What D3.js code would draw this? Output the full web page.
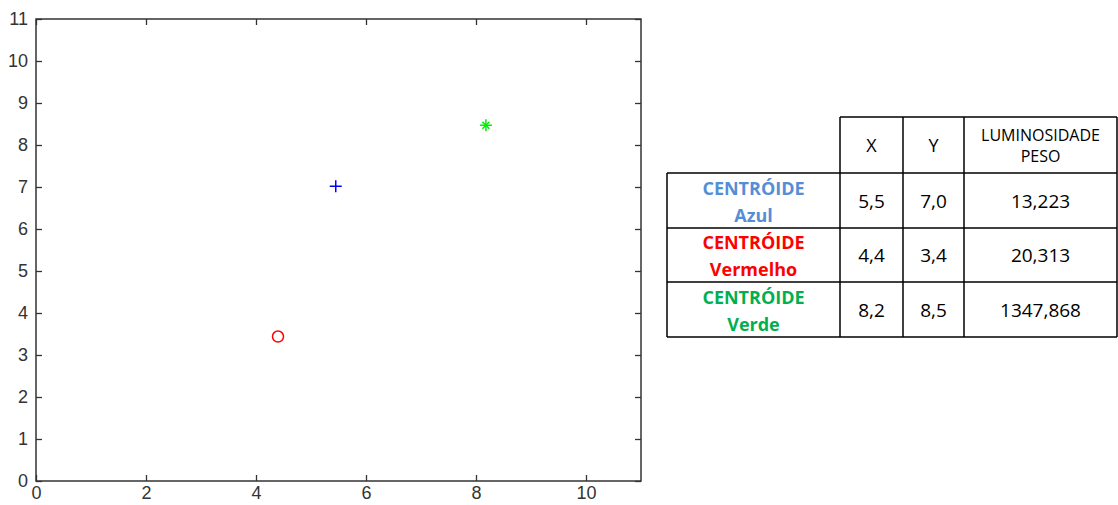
<!DOCTYPE html>
<meta charset="utf-8">
<title>Centroides</title>
<style>
  body { margin: 0; background: #fff; }
  .cell-text { font-family: 'Open Sans', 'Liberation Sans', sans-serif; }
</style>
<svg width="1118" height="505"></svg>
<script src="https://cdn.jsdelivr.net/npm/d3@7"></script>
<script>
// centroides
var nomes = ["Azul", "Vermelho", "Verde"];
var xs = [5.45, 4.4, 8.18];
var ys = [7.02, 3.44, 8.47];
var cores = ["#0000ff", "#ff0000", "#00ee00"];
var simbolos = ["plus", "circle", "star"];

// tabela
var cabecalho = ["X", "Y", "LUMINOSIDADE|PESO"];
var tabX = ["5,5", "4,4", "8,2"];
var tabY = ["7,0", "3,4", "8,5"];
var luminosidade = ["13,223", "20,313", "1347,868"];
var coresRotulo = ["#558ed5", "#ff0000", "#00b050"];

var xTicks = [0, 2, 4, 6, 8, 10];
var yTicks = d3.range(0, 12);

var svg = d3.select("svg");
var mLeft = 36, mRight = 641, mTop = 19, mBottom = 481;

var x = d3.scaleLinear().domain([0, 11]).range([mLeft, mRight]);
var y = d3.scaleLinear().domain([0, 11]).range([mBottom, mTop]);

function estilo(g) {
  g.attr("font-size", 18).attr("font-family", "'Liberation Sans', Helvetica, Arial, sans-serif");
  g.selectAll(".domain").remove();
  g.selectAll(".tick line").attr("stroke", "#333").attr("stroke-width", 1.3);
  g.selectAll(".tick text").attr("fill", "#333");
}

svg.append("g").attr("transform", "translate(0," + mBottom + ")")
  .call(d3.axisBottom(x).tickValues(xTicks).tickSizeInner(-6).tickPadding(5))
  .call(estilo);
svg.append("g").attr("transform", "translate(0," + mTop + ")")
  .call(d3.axisTop(x).tickValues(xTicks).tickSizeInner(-6).tickFormat(""))
  .call(estilo);
svg.append("g").attr("transform", "translate(" + mLeft + ",0)")
  .call(d3.axisLeft(y).tickValues(yTicks).tickSizeInner(-6).tickPadding(8))
  .call(estilo);
svg.append("g").attr("transform", "translate(" + mRight + ",0)")
  .call(d3.axisRight(y).tickValues(yTicks).tickSizeInner(-6).tickFormat(""))
  .call(estilo);

svg.append("rect")
  .attr("x", mLeft).attr("y", mTop)
  .attr("width", mRight - mLeft).attr("height", mBottom - mTop)
  .attr("fill", "none").attr("stroke", "#333").attr("stroke-width", 1.5);

// marcadores
var pontos = svg.append("g").selectAll("g")
  .data(nomes).enter().append("g")
  .attr("transform", function(d, i) { return "translate(" + x(xs[i]) + "," + y(ys[i]) + ")"; })
  .attr("stroke", function(d, i) { return cores[i]; })
  .attr("fill", "none")
  .attr("stroke-width", 1.5);

pontos.each(function(d, i) {
  var g = d3.select(this), s = 6;
  if (simbolos[i] === "circle") {
    g.append("circle").attr("r", 5.5);
  } else {
    g.append("path").attr("d", "M" + -s + ",0H" + s + "M0," + -s + "V" + s);
    if (simbolos[i] === "star") {
      var k = 3.5;
      g.append("path").attr("d", "M" + -k + "," + -k + "L" + k + "," + k + "M" + -k + "," + k + "L" + k + "," + -k);
    }
  }
});

// tabela
var colX = [667, 840, 903, 964, 1117];
var rowY = [117, 173, 228, 282, 337];
var tab = svg.append("g").attr("class", "cell-text");

// linhas horizontais
rowY.forEach(function(yy, r) {
  tab.append("line")
    .attr("x1", r === 0 ? colX[1] : colX[0]).attr("x2", colX[4])
    .attr("y1", yy).attr("y2", yy)
    .attr("stroke", "#000").attr("stroke-width", 1.5);
});
// linhas verticais
colX.forEach(function(xx, c) {
  tab.append("line")
    .attr("x1", xx).attr("x2", xx)
    .attr("y1", c === 0 ? rowY[1] : rowY[0]).attr("y2", rowY[4])
    .attr("stroke", "#000").attr("stroke-width", 1.5);
});

function meio(a, b) { return (a + b) / 2; }

// cabeçalho
cabecalho.forEach(function(h, c) {
  var partes = h.split("|");
  var cx = meio(colX[c + 1], colX[c + 2]);
  var cy = meio(rowY[0], rowY[1]);
  var t = tab.append("text").attr("x", cx).attr("text-anchor", "middle")
    .attr("font-size", partes.length > 1 ? 16 : 18).attr("fill", "#000");
  if (partes.length > 1) {
    t.append("tspan").attr("x", cx).attr("y", cy - 4).text(partes[0]);
    t.append("tspan").attr("x", cx).attr("y", cy + 17).text(partes[1]);
  } else {
    t.attr("y", cy + 7).text(h);
  }
});

// linhas de dados
nomes.forEach(function(n, r) {
  var y0 = rowY[r + 1], y1 = rowY[r + 2], cy = meio(y0, y1);
  var lx = meio(colX[0], colX[1]);
  var t = tab.append("text").attr("text-anchor", "middle")
    .attr("font-size", 18).attr("font-weight", "bold").attr("fill", coresRotulo[r]);
  t.append("tspan").attr("x", lx).attr("y", cy - 6).text("CENTRÓIDE");
  t.append("tspan").attr("x", lx).attr("y", cy + 21).text(n);
  [tabX[r], tabY[r], luminosidade[r]].forEach(function(v, c) {
    tab.append("text")
      .attr("x", meio(colX[c + 1], colX[c + 2])).attr("y", cy + 7)
      .attr("text-anchor", "middle").attr("font-size", 19).attr("fill", "#000")
      .text(v);
  });
});
</script>
